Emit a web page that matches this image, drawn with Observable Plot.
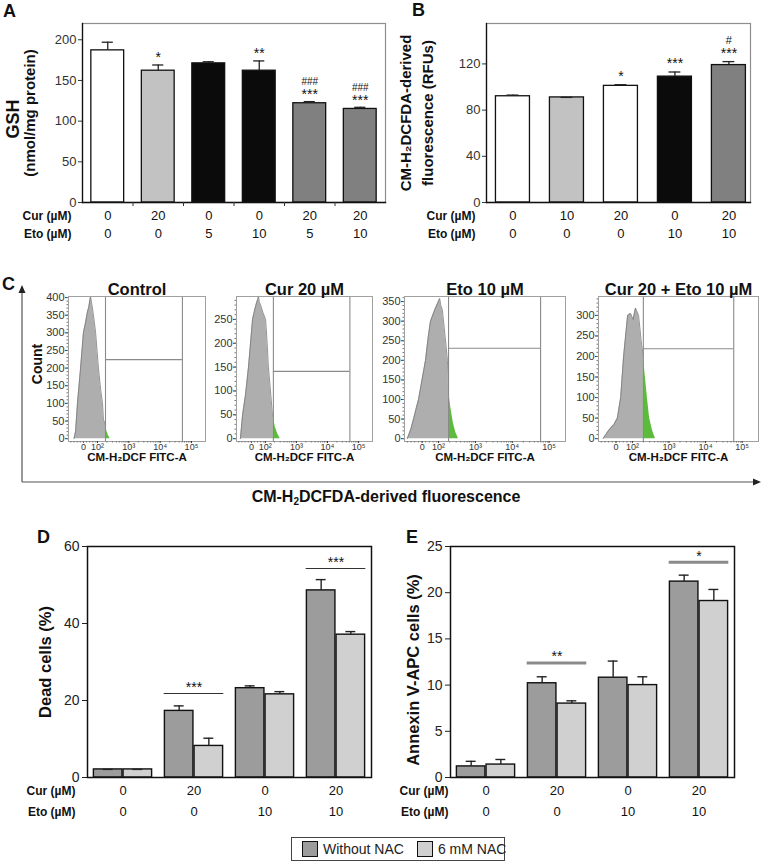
<!DOCTYPE html>
<html><head><meta charset="utf-8">
<script src="https://cdn.jsdelivr.net/npm/d3@7"></script>
<script src="https://cdn.jsdelivr.net/npm/@observablehq/plot@0.6"></script>
<style>
body{margin:0;background:#fff;font-family:Arial,"Liberation Sans",sans-serif;color:#111;}
#fig{position:relative;width:762px;height:862px;overflow:hidden;background:#fff;}
.letter{position:absolute;font-weight:bold;font-size:18px;line-height:1;}
.sw{display:inline-block;flex:none;width:14px;height:14px;border:1.3px solid #111;margin-right:5px;}
svg{overflow:visible;}
</style></head><body><div id="fig"></div>
<script>
// ---------- Panel A data ----------
const curA = ["0","20","0","0","20","20"];
const etoA = ["0","0","5","10","5","10"];
const groupA = ["control","cur","eto","eto","combo","combo"];
const gshMean = [187,162,171,162,122,115];
const gshUpper = [197,169,173,174,124,117];
const starsA = ["","*","","**","***","***"];
const hashA = ["","","","","###","###"];
const yTicksA = [0,50,100,150,200];

// ---------- Panel B data ----------
const curB = ["0","10","20","0","20"];
const etoB = ["0","0","0","10","10"];
const groupB = ["control","cur10","cur20","eto","combo"];
const rfuMean = [92,91,101,109,119];
const rfuUpper = [93,91,102,113,122];
const starsB = ["","","*","***","***"];
const hashB = ["","","","","#"];
const yTicksB = [0,40,80,120];

// ---------- Panel C data (flow histograms, x in log-display units) ----------
const histTitles = ["Control","Cur 20 µM","Eto 10 µM","Cur 20 + Eto 10 µM"];
const histCtrlL = [1.25,1.30,1.36,1.46,1.55,1.62,1.68,1.72,1.76,1.78,1.81,1.84,1.90,1.94,2.03,2.10,2.16,2.19,2.255,2.30,2.35,2.41];
const histCtrlC = [0,20,100,200,300,330,360,372,395,402,385,370,330,300,200,140,100,55,37,20,8,0];
const histCurL = [1.20,1.27,1.36,1.46,1.59,1.66,1.72,1.76,1.78,1.81,1.84,1.92,2.01,2.06,2.10,2.18,2.23,2.26,2.32,2.40,2.48];
const histCurC = [0,50,90,150,250,270,285,292,298,286,282,265,250,200,150,90,50,45,25,10,0];
const histEtoL = [1.15,1.25,1.32,1.40,1.455,1.55,1.645,1.72,1.78,1.90,1.97,2.03,2.06,2.10,2.135,2.20,2.24,2.27,2.33,2.40,2.47,2.54];
const histEtoC = [0,25,50,80,100,150,200,260,300,330,345,358,340,330,300,240,200,125,80,40,15,0];
const histComboL = [1.20,1.35,1.50,1.59,1.68,1.76,1.87,1.95,2.02,2.085,2.17,2.25,2.30,2.41,2.47,2.55,2.63];
const histComboC = [0,20,35,50,100,200,300,305,290,318,300,230,200,100,50,20,0];
const gateLo = [2.255,2.26,2.27,2.30];
const gateHi = [4.71,4.72,4.77,4.77];
const gateCount = [224,141,231,219];
const countTicks = [[0,50,100,150,200,250,300,350,400],[0,50,100,150,200,250],[0,50,100,150,200,250,300,350],[0,50,100,150,200,250,300]];
const countMax = [403,298,363,346];
const xTickValues = [1.553,2,3,4,5];
const xTickLabels = ["0","10²","10³","10⁴","10⁵"];

// ---------- Panels D / E data ----------
const curDE = ["0","20","0","20"];
const etoDE = ["0","0","10","10"];
const series = ["Without NAC","6 mM NAC"];
const deadWithout = [2.1,17.3,23.2,48.6];
const deadWithoutUp = [2.1,18.6,23.8,51.4];
const deadNac = [2.1,8.2,21.6,37.1];
const deadNacUp = [2.1,10.2,22.3,37.9];
const sigDGroup = [1,3];
const sigDValue = [21.8,54.3];
const sigDLabel = ["***","***"];
const annWithout = [1.2,10.2,10.8,21.2];
const annWithoutUp = [1.75,10.9,12.6,21.9];
const annNac = [1.4,8.0,10.0,19.1];
const annNacUp = [1.95,8.3,10.9,20.35];
const sigEGroup = [1,3];
const sigEValue = [12.4,23.3];
const sigELabel = ["**","*"];
const yTicksD = [0,20,40,60];
const yTicksE = [0,5,10,15,20,25];

// ---------- helpers ----------
const FONT = 'Arial, "Liberation Sans", sans-serif';
const fig = document.getElementById("fig");
function place(el, left, top){ el.style.position="absolute"; el.style.left=left+"px"; el.style.top=top+"px"; fig.appendChild(el); return el; }
function letter(t, left, top){ const d=document.createElement("div"); d.className="letter"; d.textContent=t; place(d,left,top); }
const baseStyle = {fontFamily: FONT, background: "transparent", overflow: "visible", color: "#111"};
const vlab = (t, dx, dy, size) => Plot.text([t], {frameAnchor: "left", dx, dy, rotate: -90, textAnchor: "middle", lineAnchor: "middle", fontSize: size, fontWeight: "bold"});

// ---------- Panel A ----------
const dataA = curA.map((c,i)=>({i, cur:c, eto:etoA[i], group:groupA[i], v:gshMean[i], e:gshUpper[i], star:starsA[i], hash:hashA[i]}));
place(Plot.plot({
  width: 390, height: 250, marginLeft: 82, marginRight: 5, marginTop: 23, marginBottom: 48,
  style: baseStyle,
  x: {domain: [-0.5, 5.5]},
  y: {domain: [0, 220]},
  color: {domain: ["control","cur","eto","combo"], range: ["#ffffff","#c2c2c2","#0b0b0b","#808080"]},
  marks: [
    Plot.frame({stroke: "#8e8e8e", strokeWidth: 1.2}),
    Plot.rectY(dataA, {x1: d=>d.i-0.325, x2: d=>d.i+0.325, y: "v", fill: "group", stroke: "#111", strokeWidth: 1.3}),
    Plot.ruleX(dataA, {x: "i", y1: "v", y2: "e", stroke: "#222", strokeWidth: 1.3}),
    Plot.ruleY(dataA, {y: "e", x1: d=>d.i-0.11, x2: d=>d.i+0.11, stroke: "#222", strokeWidth: 1.3}),
    Plot.text(dataA, {x: "i", y: "e", text: "star", dy: -7, fontSize: 14}),
    Plot.text(dataA, {x: "i", y: "e", text: "hash", dy: -20, fontSize: 10}),
    Plot.frame({anchor: "left", stroke: "#111", strokeWidth: 1.3}),
    Plot.frame({anchor: "bottom", stroke: "#111", strokeWidth: 1.3}),
    Plot.axisY(yTicksA, {tickSize: 4, tickPadding: 2, fontSize: 13, label: null, color: "#333"}),
    Plot.axisX(d3.range(0.5, 5, 1), {tickSize: 4, tickFormat: () => "", label: null, color: "#333"}),
    Plot.text(dataA, {x: "i", text: "cur", frameAnchor: "bottom", dy: 17, fontSize: 13}),
    Plot.text(dataA, {x: "i", text: "eto", frameAnchor: "bottom", dy: 35, fontSize: 13}),
    Plot.text(["Cur (µM)"], {frameAnchor: "bottom-left", dx: -11, dy: 17, textAnchor: "end", fontSize: 12, fontWeight: "bold"}),
    Plot.text(["Eto (µM)"], {frameAnchor: "bottom-left", dx: -11, dy: 35, textAnchor: "end", fontSize: 12, fontWeight: "bold"}),
    vlab("GSH", -69, 6, 18),
    vlab("(nmol/mg protein)", -52, 0, 15)
  ]
}), 0, 0);

// ---------- Panel B ----------
const dataB = curB.map((c,i)=>({i, cur:c, eto:etoB[i], group:groupB[i], v:rfuMean[i], e:rfuUpper[i], star:starsB[i], hash:hashB[i]}));
place(Plot.plot({
  width: 392, height: 250, marginLeft: 116, marginRight: 12, marginTop: 23, marginBottom: 48,
  style: baseStyle,
  x: {domain: [-0.49, 4.4], axis: null},
  y: {domain: [0, 155]},
  color: {domain: ["control","cur10","cur20","eto","combo"], range: ["#ffffff","#c2c2c2","#ffffff","#0b0b0b","#808080"]},
  marks: [
    Plot.frame({stroke: "#8e8e8e", strokeWidth: 1.2}),
    Plot.rectY(dataB, {x1: d=>d.i-0.315, x2: d=>d.i+0.315, y: "v", fill: "group", stroke: "#111", strokeWidth: 1.3}),
    Plot.ruleX(dataB, {x: "i", y1: "v", y2: "e", stroke: "#222", strokeWidth: 1.3}),
    Plot.ruleY(dataB, {y: "e", x1: d=>d.i-0.11, x2: d=>d.i+0.11, stroke: "#222", strokeWidth: 1.3}),
    Plot.text(dataB, {x: "i", y: "e", text: "star", dy: -8, fontSize: 14}),
    Plot.text(dataB, {x: "i", y: "e", text: "hash", dy: -21, fontSize: 11}),
    Plot.frame({anchor: "left", stroke: "#111", strokeWidth: 1.3}),
    Plot.frame({anchor: "bottom", stroke: "#111", strokeWidth: 1.3}),
    Plot.axisY(yTicksB, {tickSize: 4, tickPadding: 2, fontSize: 13, label: null, color: "#333"}),
    Plot.text(dataB, {x: "i", text: "cur", frameAnchor: "bottom", dy: 17, fontSize: 13}),
    Plot.text(dataB, {x: "i", text: "eto", frameAnchor: "bottom", dy: 35, fontSize: 13}),
    Plot.text(["Cur (µM)"], {frameAnchor: "bottom-left", dx: -11, dy: 17, textAnchor: "end", fontSize: 12, fontWeight: "bold"}),
    Plot.text(["Eto (µM)"], {frameAnchor: "bottom-left", dx: -11, dy: 35, textAnchor: "end", fontSize: 12, fontWeight: "bold"}),
    vlab("CM-H₂DCFDA-derived", -80, 0, 15),
    vlab("fluorescence (RFUs)", -58, 0, 15)
  ]
}), 370, 0);

// ---------- Panel C ----------
const cOverlay = document.createElementNS("http://www.w3.org/2000/svg","svg");
cOverlay.setAttribute("width","762"); cOverlay.setAttribute("height","862");
cOverlay.innerHTML = '<line x1="22" y1="482" x2="22" y2="292" stroke="#555" stroke-width="1.2"/>' +
  '<polygon points="22,285 18.5,293 25.5,293" fill="#222"/>' +
  '<line x1="22" y1="482" x2="754" y2="482" stroke="#555" stroke-width="1.2"/>' +
  '<polygon points="761,482 753,478.5 753,485.5" fill="#222"/>';
place(cOverlay, 0, 0);
cOverlay.style.pointerEvents = "none";

const histL = [histCtrlL, histCurL, histEtoL, histComboL];
const histC = [histCtrlC, histCurC, histEtoC, histComboC];
const boxLeft = [68, 236, 404, 598];
const boxRight = [205, 372, 565, 758];
const xLabelMap = new Map(xTickValues.map((v,k)=>[v, xTickLabels[k]]));
const xMinor = [];
for (const dd of [2,3,4]) for (const k of d3.range(2,10)) xMinor.push(dd + Math.log10(k));
for (const v of d3.range(1.15, 1.96, 0.1)) xMinor.push(v);
histTitles.forEach((title, h) => {
  const pts = histL[h].map((L,k)=>({L, c: histC[h][k]}));
  const grey = pts.filter(p => p.L <= gateLo[h]);
  const green = pts.filter(p => p.L >= gateLo[h]);
  const w = boxRight[h] - boxLeft[h];
  const marks = [
    Plot.areaY(grey, {x: "L", y: "c", fill: "#aeaeae"}),
    Plot.lineY(grey, {x: "L", y: "c", stroke: "#7a7a7a", strokeWidth: 0.8}),
    Plot.areaY(green, {x: "L", y: "c", fill: "#5cbb3c"}),
    Plot.ruleX([gateLo[h], gateHi[h]], {stroke: "#8a8a8a", strokeWidth: 1.1}),
    Plot.ruleY([gateCount[h]], {x1: () => gateLo[h], x2: () => gateHi[h], stroke: "#8a8a8a", strokeWidth: 1.1}),
    Plot.frame({stroke: "#a0a0a0"}),
    Plot.axisY(countTicks[h], {tickSize: 3, tickPadding: 1, fontSize: 11, label: null, color: "#333"}),
    Plot.axisY(d3.range(0, countMax[h], 10), {tickSize: 1.5, tickFormat: () => "", label: null, color: "#777"}),
    Plot.axisX(xTickValues, {tickSize: 2, tickPadding: 0, fontSize: 9, tickFormat: d => xLabelMap.get(d), label: null, color: "#333"}),
    Plot.axisX(xMinor, {tickSize: 1.5, tickFormat: () => "", label: null, color: "#777"}),
    Plot.text([title], {frameAnchor: "top", dy: -13, fontSize: 16.5, fontWeight: "bold"}),
    Plot.text(["CM-H₂DCF FITC-A"], {frameAnchor: "bottom", dy: 19, fontSize: 11.5, fontWeight: "bold"})
  ];
  if (h === 0) marks.push(vlab("Count", -31, -5, 14));
  place(Plot.plot({
    width: w + 58, height: 200, marginLeft: 50, marginRight: 8, marginTop: 26, marginBottom: 29,
    style: baseStyle,
    x: {domain: [1.074, 5.447]},
    y: {domain: [-(countMax[h] * 0.02), countMax[h]]},
    marks
  }), boxLeft[h] - 50, 270);
});
const cLab = document.createElement("div");
cLab.innerHTML = "CM-H<sub style='font-size:10px;vertical-align:-3px'>2</sub>DCFDA-derived fluorescence";
cLab.style.cssText = "font-weight:bold;font-size:16px;line-height:18px;transform:translateX(-50%);white-space:nowrap;";
place(cLab, 386, 488);

// ---------- Panels D & E ----------
function groupedData(without, withoutUp, nac, nacUp){
  const out = [];
  curDE.forEach((c,g)=>{
    out.push({g, s: series[0], x1: g-0.41, x2: g-0.008, xc: g-0.209, v: without[g], e: withoutUp[g]});
    out.push({g, s: series[1], x1: g+0.008, x2: g+0.41, xc: g+0.209, v: nac[g], e: nacUp[g]});
  });
  return out;
}
const rows = curDE.map((c,g)=>({g, cur:c, eto:etoDE[g]}));
function groupedPlot(data, sig, yDomain, yTicks, ylab, ylabDx, ylabDy, marginLeft, marginRight, sigStroke, sigWidth, labDx){
  return Plot.plot({
    width: marginLeft + 284 + marginRight, height: 310, marginLeft, marginRight, marginTop: 26, marginBottom: 53,
    style: baseStyle,
    x: {domain: [-0.5, 3.5], axis: null},
    y: {domain: yDomain},
    color: {domain: series, range: ["#9c9c9c","#d0d0d0"]},
    marks: [
      Plot.rectY(data, {x1: "x1", x2: "x2", y: "v", fill: "s", stroke: "#111", strokeWidth: 1.4}),
      Plot.ruleX(data, {x: "xc", y1: "v", y2: "e", stroke: "#222", strokeWidth: 1.4}),
      Plot.ruleY(data, {y: "e", x1: d=>d.xc-0.07, x2: d=>d.xc+0.07, stroke: "#222", strokeWidth: 1.4}),
      Plot.ruleY(sig, {y: "v", x1: d=>d.g-0.42, x2: d=>d.g+0.42, stroke: sigStroke, strokeWidth: sigWidth}),
      Plot.text(sig, {x: "g", y: "v", text: "label", dy: -6, fontSize: 14}),
      Plot.frame({stroke: "#111", strokeWidth: 1.5}),
      Plot.axisY(yTicks, {tickSize: 5, tickPadding: 3, fontSize: 14, label: null, color: "#222"}),
      Plot.text(rows, {x: "g", text: "cur", frameAnchor: "bottom", dy: 17, fontSize: 13}),
      Plot.text(rows, {x: "g", text: "eto", frameAnchor: "bottom", dy: 38, fontSize: 13}),
      Plot.text(["Cur (µM)"], {frameAnchor: "bottom-left", dx: labDx, dy: 17, textAnchor: "end", fontSize: 12, fontWeight: "bold"}),
      Plot.text(["Eto (µM)"], {frameAnchor: "bottom-left", dx: labDx, dy: 38, textAnchor: "end", fontSize: 12, fontWeight: "bold"}),
      vlab(ylab, ylabDx, ylabDy, 16.5)
    ]
  });
}
const dataD = groupedData(deadWithout, deadWithoutUp, deadNac, deadNacUp);
const sigD = sigDGroup.map((g,k)=>({g, v: sigDValue[k], label: sigDLabel[k]}));
place(groupedPlot(dataD, sigD, [0,60], yTicksD, "Dead cells (%)", -42, 0, 87, 9, "#333", 1.1, -12), 0, 520);
const dataE = groupedData(annWithout, annWithoutUp, annNac, annNacUp);
const sigE = sigEGroup.map((g,k)=>({g, v: sigEValue[k], label: sigELabel[k]}));
place(groupedPlot(dataE, sigE, [0,25], yTicksE, "Annexin V-APC cells (%)", -37, 8, 70, 31, "#8a8a8a", 3, -2), 380, 520);

// ---------- letters & legend ----------
letter("A", 3, 2); letter("B", 412, 1); letter("C", 2, 275); letter("D", 37, 528); letter("E", 406, 528);
const leg = document.createElement("div");
leg.style.cssText = "width:212px;height:22px;border:1px solid #444;display:flex;align-items:center;font-size:14px;color:#222;white-space:nowrap;";
leg.innerHTML = `<span class="sw" style="background:#9c9c9c;margin-left:10px"></span><span>${series[0]}</span>` +
  `<span class="sw" style="background:#d0d0d0;margin-left:13px"></span><span>${series[1]}</span>`;
place(leg, 291, 837);
</script></body></html>
